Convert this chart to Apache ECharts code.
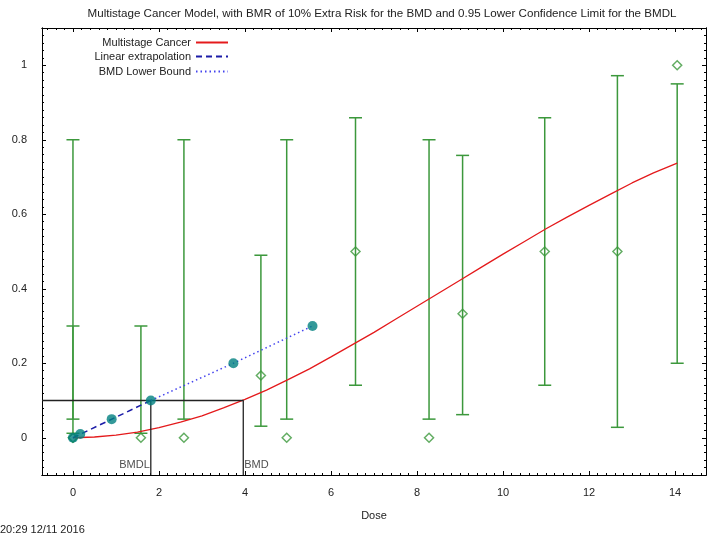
<!DOCTYPE html>
<html>
<head>
<meta charset="utf-8">
<script src="https://cdn.jsdelivr.net/npm/echarts@6/dist/echarts.min.js"></script>
<style>html,body{margin:0;padding:0;background:#fff}#c{width:709px;height:540px}</style>
</head>
<body>
<div id="c"></div>
<script>
// ---- data ----
var curveDose = [0, 0.5, 1, 1.5, 2, 2.5, 3, 3.5, 4, 4.5, 5, 5.5, 6, 6.5, 7, 7.5, 8, 8.5, 9, 9.5, 10, 10.5, 11, 11.5, 12, 12.5, 13, 13.5, 14.05];
var curveRisk = [0, 0.002, 0.007, 0.015, 0.027, 0.042, 0.059, 0.08, 0.103, 0.128, 0.156, 0.185, 0.217, 0.25, 0.283, 0.318, 0.353, 0.388, 0.423, 0.458, 0.493, 0.527, 0.561, 0.593, 0.624, 0.654, 0.684, 0.711, 0.737];

var ebDose = [0, 0, 1.58, 2.58, 4.37, 4.97, 6.57, 8.28, 9.06, 10.97, 12.66, 14.05];
var ebEst  = [0, 0, 0, 0, 0.167, 0, 0.5, 0, 0.333, 0.5, 0.5, 1.0];
var ebLow  = [0.05, 0.012, 0.012, 0.05, 0.031, 0.05, 0.141, 0.05, 0.062, 0.141, 0.028, 0.2];
var ebHigh = [0.8, 0.3, 0.3, 0.8, 0.49, 0.8, 0.859, 0.8, 0.758, 0.859, 0.972, 0.95];

var bmdPtDose = [0, 0.17, 0.9, 1.81, 3.73, 5.57];
var bmdPtRisk = [0, 0.01, 0.05, 0.1, 0.2, 0.3];
var linExtDose = [0, 1.81];
var linExtRisk = [0, 0.1];
var lowBoundDose = [1.81, 3.73, 5.57];
var lowBoundRisk = [0.1, 0.2, 0.3];

var BMR = 0.1, BMD = 3.96, BMDL = 1.81;

var XMIN = -0.72, XMAX = 14.72, YMIN = -0.1, YMAX = 1.1;
var xTickVals = [0, 2, 4, 6, 8, 10, 12, 14];
var yTickVals = [0, 0.2, 0.4, 0.6, 0.8, 1];
var xMinorVals = [];
for (var i = -3; i <= 73; i++) xMinorVals.push(Math.round(i * 0.2 * 100) / 100);
var yMinorVals = [];
for (var j = -5; j <= 55; j++) yMinorVals.push(Math.round(j * 0.02 * 1000) / 1000);

var titleText = 'Multistage Cancer Model, with BMR of 10% Extra Risk for the BMD and 0.95 Lower Confidence Limit for the BMDL';
var stampText = '20:29 12/11 2016';

// ---- build ----
function zip(a, b) { return a.map(function (v, k) { return [v, b[k]]; }); }
var FONT = '"Liberation Sans", Arial, sans-serif';
var TXT = '#222';
var GREEN = '#3c983c';

function mkX(pos, vals, len, labels, extra) {
  var o = {
    type: 'value', min: XMIN, max: XMAX, position: pos,
    axisLine: { show: true, onZero: false, lineStyle: { color: '#000', width: 1 } },
    splitLine: { show: false },
    axisTick: { show: true, inside: true, length: len, customValues: vals, lineStyle: { color: '#000', width: 1 } },
    axisLabel: labels ? { show: true, customValues: xTickVals, margin: 12, color: TXT, fontSize: 11, fontFamily: FONT, formatter: function (v) { return String(v); } } : { show: false }
  };
  for (var k in (extra || {})) o[k] = extra[k];
  return o;
}
function mkY(pos, vals, len, labels) {
  return {
    type: 'value', min: YMIN, max: YMAX, position: pos,
    axisLine: { show: true, onZero: false, lineStyle: { color: '#000', width: 1 } },
    splitLine: { show: false },
    axisTick: { show: true, inside: true, length: len, customValues: vals, lineStyle: { color: '#000', width: 1 } },
    axisLabel: labels ? { show: true, customValues: yTickVals, margin: 15, color: TXT, fontSize: 11, fontFamily: FONT, formatter: function (v) { return String(Math.round(v * 10) / 10); } } : { show: false }
  };
}

var ebData = ebDose.map(function (d, k) { return [d, ebLow[k], ebHigh[k]]; });

var chart = echarts.init(document.getElementById('c'), null, { renderer: 'canvas' });
function lg(name, top) {
  return {
    data: [name], top: top, right: 480,
    orient: 'horizontal', align: 'right', padding: 0, itemWidth: 32, itemHeight: 10,
    selectedMode: false,
    itemStyle: { opacity: 0, borderWidth: 0 },
    textStyle: { fontSize: 11, fontFamily: FONT, color: TXT }
  };
}

chart.setOption({
  animation: false,
  backgroundColor: '#fff',
  title: [
    { text: titleText, left: 377, top: 3, textAlign: 'center', textStyle: { fontSize: 11.6, fontWeight: 'normal', color: TXT, fontFamily: FONT } },
    { text: stampText, left: 0, top: 524, padding: 0, textStyle: { fontSize: 11, fontWeight: 'normal', color: TXT, fontFamily: FONT } }
  ],
  legend: [lg('Multistage Cancer', 37), lg('Linear extrapolation', 51), lg('BMD Lower Bound', 66)],
  grid: { left: 42, right: 3, top: 28, bottom: 65, containLabel: false },
  xAxis: [
    mkX('bottom', xTickVals, 4, true, { name: 'Dose', nameLocation: 'middle', nameGap: 35, nameTextStyle: { fontSize: 11, fontFamily: FONT, color: TXT } }),
    mkX('bottom', xMinorVals, 2, false),
    mkX('top', xTickVals, 4, false),
    mkX('top', xMinorVals, 2, false)
  ],
  yAxis: [
    mkY('left', yTickVals, 4, true),
    mkY('left', yMinorVals, 2, false),
    mkY('right', yTickVals, 4, false),
    mkY('right', yMinorVals, 2, false)
  ],
  series: [
    {
      name: 'errorbars', type: 'custom', z: 2, silent: true,
      data: ebData,
      renderItem: function (params, api) {
        var x = api.value(0);
        var p1 = api.coord([x, api.value(1)]);
        var p2 = api.coord([x, api.value(2)]);
        var hw = 6.5;
        var st = { stroke: GREEN, lineWidth: 1.5 };
        return {
          type: 'group',
          children: [
            { type: 'line', shape: { x1: p1[0], y1: p1[1], x2: p2[0], y2: p2[1] }, style: st },
            { type: 'line', shape: { x1: p1[0] - hw, y1: p1[1], x2: p1[0] + hw, y2: p1[1] }, style: st },
            { type: 'line', shape: { x1: p2[0] - hw, y1: p2[1], x2: p2[0] + hw, y2: p2[1] }, style: st }
          ]
        };
      }
    },
    {
      name: 'estimates', type: 'scatter', z: 3, symbol: 'diamond', symbolSize: 9,
      itemStyle: { color: 'rgba(0,0,0,0)', borderColor: GREEN, borderWidth: 1.5 },
      data: zip(ebDose, ebEst)
    },
    {
      name: 'Multistage Cancer', type: 'line', z: 4, smooth: false, symbol: 'none',
      lineStyle: { color: '#e41a1c', width: 1.3 }, itemStyle: { color: '#e41a1c' },
      data: zip(curveDose, curveRisk)
    },
    {
      name: 'bmdLines', type: 'line', z: 5, symbol: 'none', silent: true,
      lineStyle: { color: '#222', width: 1.3 },
      data: [[XMIN, BMR], [BMD, BMR], [BMD, YMIN]]
    },
    {
      name: 'bmdlLine', type: 'line', z: 5, symbol: 'none', silent: true,
      lineStyle: { color: '#222', width: 1.3 },
      data: [[BMDL, BMR], [BMDL, YMIN]]
    },
    {
      name: 'bmdLabels', type: 'scatter', z: 6, symbolSize: 0, silent: true,
      data: [
        { value: [BMDL, YMIN], label: { show: true, formatter: 'BMDL', position: 'left', distance: 1, offset: [0, -10], fontSize: 11, fontFamily: FONT, color: TXT } },
        { value: [BMD, YMIN], label: { show: true, formatter: 'BMD', position: 'right', distance: 1, offset: [0, -10], fontSize: 11, fontFamily: FONT, color: TXT } }
      ]
    },
    {
      name: 'Linear extrapolation', type: 'line', z: 7, symbol: 'none',
      lineStyle: { color: '#1c1ca8', width: 1.5, type: [6, 4] }, itemStyle: { color: '#1c1ca8' },
      data: zip(linExtDose, linExtRisk)
    },
    {
      name: 'BMD Lower Bound', type: 'line', z: 7, symbol: 'none',
      lineStyle: { color: '#4444ee', width: 1.5, type: [1.5, 3] }, itemStyle: { color: '#4444ee' },
      data: zip(lowBoundDose, lowBoundRisk)
    },
    {
      name: 'bmdPoints', type: 'scatter', z: 8, symbol: 'circle', symbolSize: 10,
      itemStyle: { color: '#008080' },
      data: zip(bmdPtDose, bmdPtRisk)
    }
  ]
});
</script>
</body>
</html>
